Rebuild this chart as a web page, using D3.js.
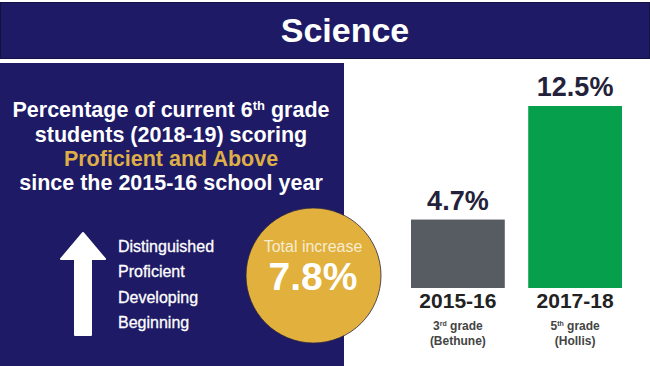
<!DOCTYPE html>
<html>
<head>
<meta charset="utf-8">
<script src="https://cdn.jsdelivr.net/npm/d3@7"></script>
<style>
  body { margin: 0; background: #fff; }
  svg { display: block; font-family: "Liberation Sans", Arial, sans-serif; }
</style>
</head>
<body>
<div id="chart"></div>
<script>
// data
var years = ["2015-16", "2017-18"];
var values = [4.7, 12.5];
var grades = [["3", "rd"], ["5", "th"]];
var schools = ["(Bethune)", "(Hollis)"];
var levels = ["Distinguished", "Proficient", "Developing", "Beginning"];
var increase = 7.8;

var barColors = ["#575b62", "#06a04c"];
var navy = "#1e1a66";
var gold = "#e2b03c";

var w = 650, h = 366;

var svg = d3.select("#chart").append("svg")
    .attr("width", w)
    .attr("height", h);

// top banner
svg.append("rect")
    .attr("x", 0.5).attr("y", 2.5)
    .attr("width", w - 1).attr("height", 56)
    .style("fill", navy)
    .style("stroke", "#14113f");

svg.append("text")
    .attr("x", 345).attr("y", 42)
    .attr("text-anchor", "middle")
    .style("fill", "#fff")
    .style("font-weight", "bold")
    .style("font-size", "34px")
    .text("Science");

// left panel
svg.append("rect")
    .attr("x", 0).attr("y", 63)
    .attr("width", 344).attr("height", h - 63)
    .style("fill", navy);

var sub = svg.append("text")
    .attr("text-anchor", "middle")
    .style("font-weight", "bold")
    .style("font-size", "21.5px")
    .style("fill", "#fff");

var l1 = sub.append("tspan").attr("x", 171).attr("y", 117);
l1.append("tspan").text("Percentage of current 6");
l1.append("tspan").attr("dy", -7).style("font-size", "13px").text("th");
l1.append("tspan").attr("dy", 7).text(" grade");
sub.append("tspan").attr("x", 171).attr("y", 142).text("students (2018-19) scoring");
sub.append("tspan").attr("x", 171).attr("y", 166).style("fill", "#deae47").text("Proficient and Above");
sub.append("tspan").attr("x", 171).attr("y", 190).text("since the 2015-16 school year");

// arrow
var arrow = d3.path();
arrow.moveTo(75, 335);
arrow.lineTo(75, 259);
arrow.lineTo(61, 259);
arrow.lineTo(83, 233);
arrow.lineTo(105, 259);
arrow.lineTo(91, 259);
arrow.lineTo(91, 335);
arrow.closePath();
svg.append("path")
    .attr("d", arrow.toString())
    .style("fill", "#fff")
    .style("stroke", "#fff")
    .style("stroke-linejoin", "round")
    .style("stroke-width", 2);

svg.selectAll(".level")
    .data(levels)
    .enter()
    .append("text")
    .attr("class", "level")
    .attr("x", 118)
    .attr("y", function(d, i) { return 252 + i * 25.3; })
    .style("fill", "#fff")
    .style("font-size", "16px")
    .style("stroke", "#fff")
    .style("stroke-width", 0.3)
    .text(function(d) { return d; });

// total increase circle
svg.append("circle")
    .attr("cx", 313.5).attr("cy", 275.5).attr("r", 67.5)
    .style("fill", gold)
    .style("stroke", "#2a2440")
    .style("stroke-width", 0.8);

svg.append("text")
    .attr("x", 313).attr("y", 252)
    .attr("text-anchor", "middle")
    .style("fill", "#f7ecd0")
    .style("font-size", "16px")
    .text("Total increase");

svg.append("text")
    .attr("x", 313).attr("y", 290)
    .attr("text-anchor", "middle")
    .style("fill", "#fff")
    .style("font-weight", "bold")
    .style("font-size", "39px")
    .text(increase + "%");

// bars
var xscale = d3.scaleBand()
    .domain(years)
    .range([411, 622])
    .paddingInner(0.2);

var yscale = d3.scaleLinear()
    .domain([0, 12.5])
    .range([288, 106]);

var bars = svg.selectAll(".bar")
    .data(years)
    .enter()
    .append("g")
    .attr("class", "bar");

bars.append("rect")
    .attr("x", function(d) { return xscale(d); })
    .attr("y", function(d, i) { return yscale(values[i]); })
    .attr("width", xscale.bandwidth())
    .attr("height", function(d, i) { return yscale(0) - yscale(values[i]); })
    .style("fill", function(d, i) { return barColors[i]; });

bars.append("text")
    .attr("x", function(d) { return xscale(d) + xscale.bandwidth() / 2; })
    .attr("y", function(d, i) { return yscale(values[i]) - 10; })
    .attr("text-anchor", "middle")
    .style("fill", "#23223a")
    .style("font-weight", "bold")
    .style("font-size", "27px")
    .text(function(d, i) { return values[i] + "%"; });

// x axis labels
bars.append("text")
    .attr("x", function(d) { return xscale(d) + xscale.bandwidth() / 2; })
    .attr("y", 308)
    .attr("text-anchor", "middle")
    .style("fill", "#222")
    .style("font-weight", "bold")
    .style("font-size", "21px")
    .text(function(d) { return d; });

var g1 = bars.append("text")
    .attr("x", function(d) { return xscale(d) + xscale.bandwidth() / 2; })
    .attr("y", 330)
    .attr("text-anchor", "middle")
    .style("fill", "#444")
    .style("font-weight", "bold")
    .style("font-size", "12px");
g1.append("tspan").text(function(d, i) { return grades[i][0]; });
g1.append("tspan").attr("dy", -4).style("font-size", "7px").text(function(d, i) { return grades[i][1]; });
g1.append("tspan").attr("dy", 4).text(" grade");

bars.append("text")
    .attr("x", function(d) { return xscale(d) + xscale.bandwidth() / 2; })
    .attr("y", 345)
    .attr("text-anchor", "middle")
    .style("fill", "#444")
    .style("font-weight", "bold")
    .style("font-size", "12px")
    .text(function(d, i) { return schools[i]; });
</script>
</body>
</html>
